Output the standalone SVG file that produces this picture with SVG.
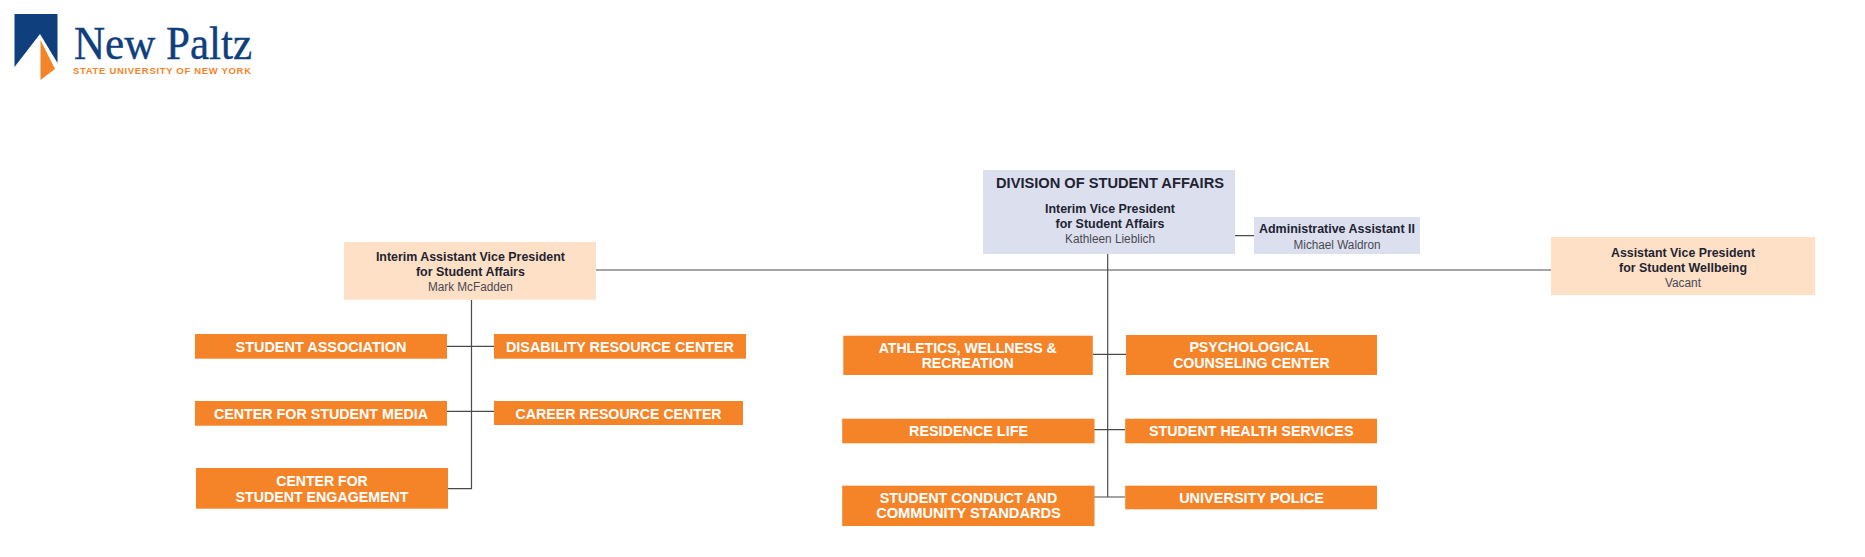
<svg xmlns="http://www.w3.org/2000/svg" width="1865" height="557" viewBox="0 0 1865 557">
<style>
text{font-family:"Liberation Sans",Arial,sans-serif;text-anchor:middle}
.o{fill:#f58428}.b{fill:#dcdfed}.p{fill:#fde0c5}
.ot{fill:#fff;font-weight:700;font-size:14.5px}
.h{fill:#1f2433;font-weight:700;font-size:13.5px}
.n{fill:#4a4a55;font-size:12.5px}
.c{fill:none;stroke:#4a4a4a;stroke-width:1.2}
</style>
<rect width="1865" height="557" fill="#fff"/>
<g id="logo">
<polygon points="14.5,14 57.500,14 57.500,63 40,34 14.500,67" fill="#0f3f7d"/>
<polygon points="40.500,40 55,69 40.500,80" fill="#f58428"/>
<text x="163" y="58.500" textLength="178" lengthAdjust="spacingAndGlyphs" style="font-family:'Liberation Serif',serif;font-size:46px;fill:#0f3f7d;stroke:#0f3f7d;stroke-width:.4">New Paltz</text>
<text x="162" y="73.500" textLength="178" style="font-size:9.500px;font-weight:700;fill:#f58428">STATE UNIVERSITY OF NEW YORK</text>
</g>
<g id="connectors">
<path class="c" d="M596 270H1551M1107.700 254V497M1235 235.700H1254M1093 354.300H1126M1094 429.700H1125M1094 497H1125M471.500 300V488.700H448M447 346.300H494M447 411.300H494"/>
</g>
<g id="division">
<rect class="b" x="983" y="170" width="252" height="84"/>
<text class="h" x="1110" y="188" textLength="228" lengthAdjust="spacingAndGlyphs" style="font-size:14.500px">DIVISION OF STUDENT AFFAIRS</text>
<text class="h" x="1110" y="213" textLength="130" lengthAdjust="spacingAndGlyphs">Interim Vice President</text>
<text class="h" x="1110" y="228.300" textLength="109" lengthAdjust="spacingAndGlyphs">for Student Affairs</text>
<text class="n" x="1110" y="243.300" textLength="90" lengthAdjust="spacingAndGlyphs">Kathleen Lieblich</text>
</g>
<g id="admin">
<rect class="b" x="1254" y="217" width="166" height="37"/>
<text class="h" x="1337" y="233" textLength="156" lengthAdjust="spacingAndGlyphs">Administrative Assistant II</text>
<text class="n" x="1337" y="249" textLength="87" lengthAdjust="spacingAndGlyphs">Michael Waldron</text>
</g>
<g id="iavp">
<rect class="p" x="344" y="242" width="252" height="57.700"/>
<text class="h" x="470.400" y="261.300" textLength="189" lengthAdjust="spacingAndGlyphs">Interim Assistant Vice President</text>
<text class="h" x="470.400" y="276" textLength="109" lengthAdjust="spacingAndGlyphs">for Student Affairs</text>
<text class="n" x="470.400" y="291" textLength="85" lengthAdjust="spacingAndGlyphs">Mark McFadden</text>
</g>
<g id="avp">
<rect class="p" x="1551" y="237" width="264" height="58"/>
<text class="h" x="1683" y="256.700" textLength="144" lengthAdjust="spacingAndGlyphs">Assistant Vice President</text>
<text class="h" x="1683" y="271.700" textLength="128" lengthAdjust="spacingAndGlyphs">for Student Wellbeing</text>
<text class="n" x="1683" y="286.700" textLength="36" lengthAdjust="spacingAndGlyphs">Vacant</text>
</g>
<g id="student-association"><rect class="o" x="195" y="334" width="252" height="24.700"/><text class="ot" x="321" y="351.700" textLength="171" lengthAdjust="spacingAndGlyphs">STUDENT ASSOCIATION</text></g>
<g id="disability"><rect class="o" x="494" y="334" width="252" height="24.700"/><text class="ot" x="620" y="351.700" textLength="228" lengthAdjust="spacingAndGlyphs">DISABILITY RESOURCE CENTER</text></g>
<g id="student-media"><rect class="o" x="195" y="401" width="252" height="24.700"/><text class="ot" x="321" y="419" textLength="214" lengthAdjust="spacingAndGlyphs">CENTER FOR STUDENT MEDIA</text></g>
<g id="career"><rect class="o" x="494" y="401" width="249" height="24"/><text class="ot" x="618.600" y="419" textLength="206" lengthAdjust="spacingAndGlyphs">CAREER RESOURCE CENTER</text></g>
<g id="engagement"><rect class="o" x="196" y="468" width="252" height="40.700"/><text class="ot" x="322" y="486" textLength="91.500" lengthAdjust="spacingAndGlyphs">CENTER FOR</text><text class="ot" x="322" y="501.700" textLength="173" lengthAdjust="spacingAndGlyphs">STUDENT ENGAGEMENT</text></g>
<g id="athletics"><rect class="o" x="843.300" y="335.700" width="249.500" height="39.300"/><text class="ot" x="967.700" y="353.300" textLength="178" lengthAdjust="spacingAndGlyphs">ATHLETICS, WELLNESS &amp;</text><text class="ot" x="967.700" y="368.300" textLength="92" lengthAdjust="spacingAndGlyphs">RECREATION</text></g>
<g id="psychological"><rect class="o" x="1126" y="335" width="251" height="40"/><text class="ot" x="1251.400" y="352.300" textLength="124" lengthAdjust="spacingAndGlyphs">PSYCHOLOGICAL</text><text class="ot" x="1251.400" y="368.300" textLength="156.500" lengthAdjust="spacingAndGlyphs">COUNSELING CENTER</text></g>
<g id="residence"><rect class="o" x="842.200" y="418.700" width="252.300" height="24.600"/><text class="ot" x="968.500" y="436" textLength="119" lengthAdjust="spacingAndGlyphs">RESIDENCE LIFE</text></g>
<g id="health"><rect class="o" x="1125.200" y="418.700" width="251.800" height="24.600"/><text class="ot" x="1251.200" y="436" textLength="204.500" lengthAdjust="spacingAndGlyphs">STUDENT HEALTH SERVICES</text></g>
<g id="conduct"><rect class="o" x="842.200" y="485.700" width="252.300" height="40.300"/><text class="ot" x="968.500" y="503.300" textLength="177.500" lengthAdjust="spacingAndGlyphs">STUDENT CONDUCT AND</text><text class="ot" x="968.500" y="518.300" textLength="184.700" lengthAdjust="spacingAndGlyphs">COMMUNITY STANDARDS</text></g>
<g id="police"><rect class="o" x="1125.200" y="485.700" width="251.800" height="23.600"/><text class="ot" x="1251.500" y="503.300" textLength="144.700" lengthAdjust="spacingAndGlyphs">UNIVERSITY POLICE</text></g>
</svg>
